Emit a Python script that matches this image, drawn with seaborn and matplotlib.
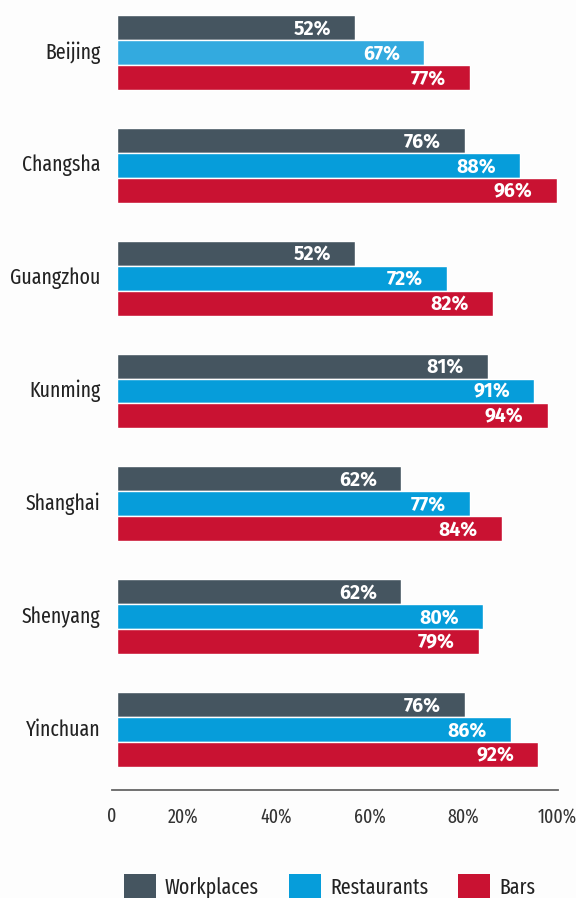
import numpy as np
import pandas as pd
import matplotlib
matplotlib.use("Agg")
import matplotlib.pyplot as plt
from matplotlib import font_manager
from matplotlib.patches import Patch
import seaborn as sns

cities = ["Beijing", "Changsha", "Guangzhou", "Kunming", "Shanghai", "Shenyang", "Yinchuan"]
series = ["Workplaces", "Restaurants", "Bars"]
workplaces = [52, 76, 52, 81, 62, 62, 76]
restaurants = [67, 88, 72, 91, 77, 80, 86]
bars = [77, 96, 82, 94, 84, 79, 92]
tick_values = [0, 20, 40, 60, 80, 100]
tick_labels = ["0", "20%", "40%", "60%", "80%", "100%"]

colors = ["#455560", "#069dda", "#c91232"]
highlight = "#33aadf"   # lighter blue used on the Beijing restaurant bar
bg = "#fdfdfd"

sns.set_theme(style="white")
installed = {f.name for f in font_manager.fontManager.ttflist}


def first_font(names):
    for n in names:
        if n in installed:
            return n
    return "DejaVu Sans"


narrow = first_font(["Fira Sans Extra Condensed", "Fira Sans Condensed", "PT Sans Narrow",
                     "Encode Sans Condensed", "Roboto Condensed", "Roboto"])
label_size = 15.5 if "Extra" in narrow else 13.5
bold_font = first_font(["Fira Sans", "Open Sans"])
plt.rcParams["font.family"] = [narrow, "DejaVu Sans"]

df = pd.DataFrame({
    "city": np.repeat(cities, 3),
    "series": series * len(cities),
    "value": np.ravel(np.column_stack([workplaces, restaurants, bars])),
})

W, H, DPI = 576, 898, 100
fig = plt.figure(figsize=(W / DPI, H / DPI), dpi=DPI, facecolor=bg)

# main bar area: x 117..575 px, y 15..767 px
ax = fig.add_axes([117 / W, 1 - 767 / H, 458 / W, 752 / H])
ax.set_facecolor(bg)
sns.barplot(data=df, y="city", x="value", hue="series", orient="h",
            order=cities, hue_order=series, palette=colors, saturation=1,
            width=0.664, legend=False, ax=ax)
ax.set_xlim(0, 100)
ax.set_ylim(len(cities) - 1 + 0.332, -0.332)
ax.set_xlabel("")
ax.set_ylabel("")
ax.set_xticks([])
for s in ax.spines.values():
    s.set_visible(False)
ax.tick_params(axis="y", length=0, pad=12, labelsize=label_size, labelcolor="#222222")
for t in ax.get_yticklabels():
    t.set_verticalalignment("center")

ax.containers[1][0].set_facecolor(highlight)

for cont in ax.containers:
    for rect in cont:
        w = rect.get_width()
        yc = rect.get_y() + rect.get_height() / 2
        ax.annotate(f"{w:.0f}%", xy=(w, yc), xytext=(-17.3, -0.8),
                    textcoords="offset points", ha="right", va="center",
                    color="white", fontsize=14, fontweight="bold",
                    family=[bold_font, "DejaVu Sans"])

# bottom axis line with tick labels (x 112..558 px, y 790 px)
bax = fig.add_axes([112 / W, 1 - 790 / H, 446 / W, 0.0001])
bax.set_facecolor("none")
bax.set_xlim(4.8, 100.2)
bax.set_yticks([])
for k in ["top", "left", "right"]:
    bax.spines[k].set_visible(False)
bax.spines["bottom"].set_color("#666666")
bax.spines["bottom"].set_linewidth(1.3)
bax.set_xticks([4.8] + tick_values[1:])
bax.set_xticklabels(tick_labels)
bax.tick_params(axis="x", length=0, pad=12, labelsize=14, labelcolor="#333333")

# legend at the bottom, partly cut off by the canvas edge
em = label_size * 100 / 72
handles = [Patch(facecolor=c, edgecolor="none") for c in colors]
fig.legend(handles, series, loc="upper left",
           bbox_to_anchor=(124 / W, 1 - 874 / H), ncol=3, frameon=False,
           fontsize=label_size, handlelength=32 / em, handleheight=32 / em,
           handletextpad=9 / em, columnspacing=30 / em, borderpad=0,
           borderaxespad=0, labelcolor="#222222")

fig.savefig("out.png", dpi=DPI, facecolor=bg)
